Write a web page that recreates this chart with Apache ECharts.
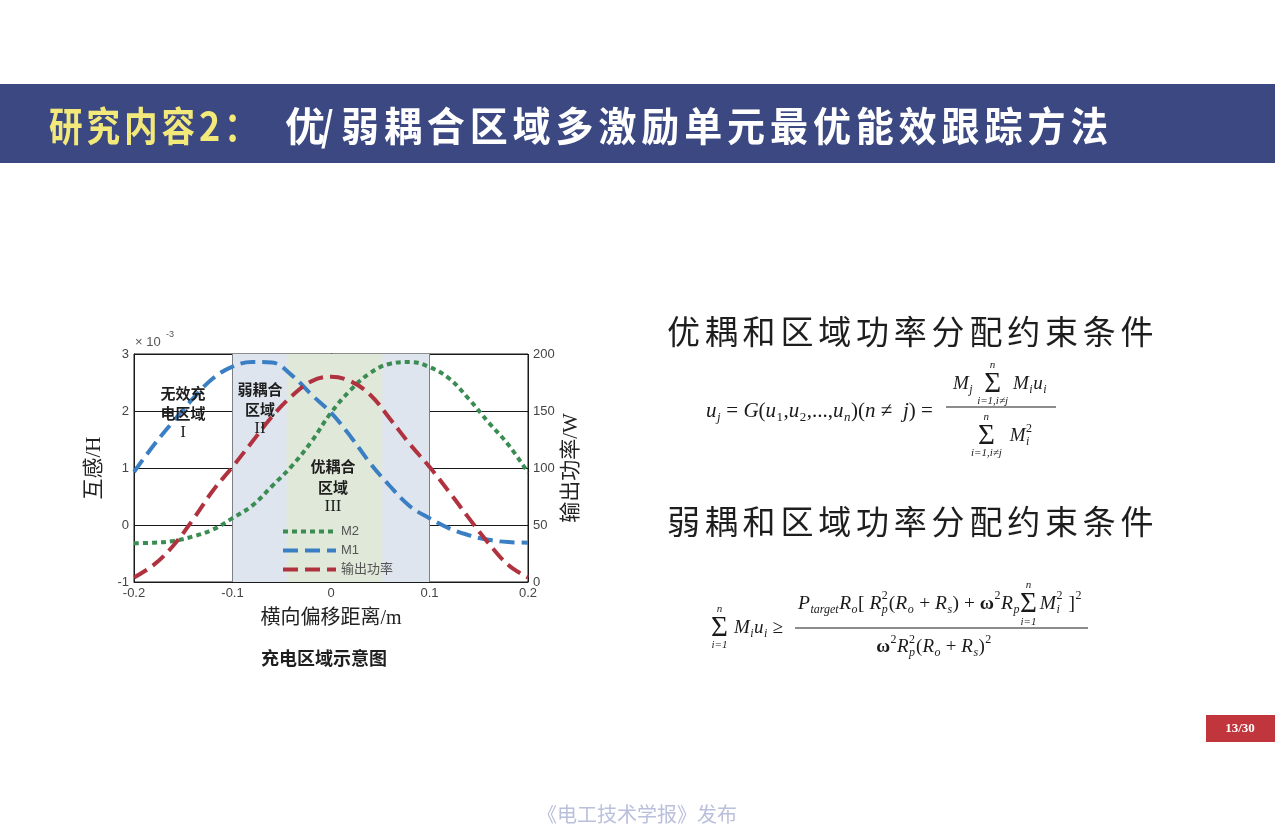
<!DOCTYPE html>
<html>
<head>
<meta charset="utf-8">
<title>研究内容2</title>
<script src="https://cdn.jsdelivr.net/npm/echarts@6/dist/echarts.min.js"></script>
<style>
  html, body { margin: 0; padding: 0; background: #ffffff; }
  #page { width: 1275px; height: 827px; }
</style>
</head>
<body>
<div id="page"></div>
<script>
// Lateral offset of the receiver (m)
const offsets = [-0.20, -0.18, -0.16, -0.14, -0.12, -0.10, -0.08, -0.06, -0.04, -0.02, 0.00,
                 0.02, 0.04, 0.06, 0.08, 0.10, 0.12, 0.14, 0.16, 0.18, 0.20];
// Mutual inductance, ×10^-3 H
const m1 = [0.93, 1.40, 1.82, 2.22, 2.57, 2.78, 2.86, 2.85, 2.63, 2.29, 1.97,
            1.55, 1.08, 0.68, 0.33, 0.12, -0.06, -0.18, -0.26, -0.30, -0.31];
const m2 = [-0.32, -0.31, -0.28, -0.20, -0.08, 0.12, 0.34, 0.68, 1.03, 1.46, 1.97,
            2.37, 2.67, 2.83, 2.86, 2.77, 2.57, 2.21, 1.80, 1.41, 0.92];
// Output power (W)
const power = [4, 15, 32, 55, 80, 101, 123, 145, 163, 176, 180,
               176, 164, 143, 121, 101, 79, 56, 34, 15, 4];

// Axis ranges
const xRange = [-0.2, 0.2, 0.1];
const mRange = [-1, 3, 1];
const pRange = [0, 200, 50];

// Charging zones along the offset axis
const weakZone = [-0.1, 0.1];
const strongZone = [-0.045, 0.052];

const seriesNames = ['M2', 'M1', '输出功率'];

const CJK = '"Noto Sans CJK SC", "Noto Sans", sans-serif';
const SANS = '"Liberation Sans", Arial, sans-serif';
const SERIF = '"Liberation Serif", "DejaVu Serif", serif';
const SERIF_CJK = '"Liberation Serif", "Noto Sans CJK SC", serif';

const mctx = document.createElement('canvas').getContext('2d');
function textWidth(s, size, family, italic, bold) {
  mctx.font = (italic ? 'italic ' : '') + (bold ? 'bold ' : '') + size + 'px ' + family;
  return mctx.measureText(s).width;
}

function txt(x, y, s, o) {
  o = o || {};
  const align = o.align || 'left';
  const valign = o.valign || 'middle';
  return {
    type: 'text', x: x, y: y, z: o.z || 100,
    scaleX: o.scaleX || 1, scaleY: o.scaleY || 1, rotation: o.rotation || 0,
    silent: true,
    style: {
      text: s,
      fontSize: o.size || 14,
      fontFamily: o.family || CJK,
      fontStyle: o.italic ? 'italic' : 'normal',
      fontWeight: o.bold ? 'bold' : 'normal',
      fill: o.color || '#222',
      align: align, textAlign: align,
      verticalAlign: valign, textVerticalAlign: valign
    }
  };
}

// Characters laid out on a fixed pitch
function spaced(str, x, y, pitch, o) {
  return Array.from(str).map((ch, i) => txt(x + i * pitch, y, ch, o));
}

// Small typesetting helper for the formulas
function mathRow(tokens, base) {
  const items = [];
  let x = 0;
  const small = Math.round(base * 0.62);
  const isVar = s => /[A-Za-z]/.test(s);
  const put = (s, dx, dy, size, italic, bold) => {
    items.push({ x: x + dx, dy: dy, s: s, size: size, italic: italic, bold: bold });
    return textWidth(s, size, SERIF, italic, bold);
  };
  tokens.forEach(t => {
    const k = t[0], a = t[1], b = t[2];
    if (k === 'gap') x += a;
    else if (k === 'i') x += put(a, 0, 0, base, true, false);
    else if (k === 'r') x += put(a, 0, 0, base, false, false);
    else if (k === 'b') x += put(a, 0, 0, base, false, true);
    else if (k === 'sub') x += put(a, 0.5, base * 0.32, small, isVar(a), false) + 1;
    else if (k === 'sup') x += put(a, 0.5, -base * 0.4, small, isVar(a), false) + 1;
    else if (k === 'ss') {
      const w1 = put(a, 0.5, base * 0.32, small, isVar(a), false);
      const w2 = put(b, 0.5, -base * 0.4, small, isVar(b), false);
      x += Math.max(w1, w2) + 1.5;
    } else if (k === 'sum') {
      const big = Math.round(base * 1.5), lim = Math.round(base * 0.56);
      const wS = textWidth('Σ', big, SERIF), wU = textWidth(a, lim, SERIF, true), wL = textWidth(b, lim, SERIF, true);
      const w = Math.max(wS, wU, wL);
      put('Σ', (w - wS) / 2, 0, big, false, false);
      put(a, (w - wU) / 2, -base * 0.98, lim, true, false);
      put(b, (w - wL) / 2, base * 0.92, lim, true, false);
      x += w + 3;
    }
  });
  return { items: items, width: x };
}
function mathEls(row, x0, cy, centered) {
  const start = centered ? x0 - row.width / 2 : x0;
  return row.items.map(it => txt(start + it.x, cy + it.dy, it.s,
    { size: it.size, family: SERIF, italic: it.italic, bold: it.bold, color: '#1a1a1a' }));
}
function rule(x1, x2, y) {
  return { type: 'line', z: 100, silent: true, shape: { x1: x1, y1: y, x2: x2, y2: y },
           style: { stroke: '#1a1a1a', lineWidth: 1 } };
}

const graphics = [];
// Title band
graphics.push({ type: 'rect', z: 50, silent: true, shape: { x: 0, y: 84, width: 1275, height: 79 },
                style: { fill: '#3b4881' } });
const titleY = 126;
graphics.push(...spaced('研究内容', 49, titleY, 37.5, { size: 40, bold: true, color: '#f3e97a', scaleX: 0.84 }));
graphics.push(txt(199, titleY, '2', { size: 40, bold: true, color: '#f3e97a', scaleX: 0.9 }));
graphics.push(txt(224, titleY, '：', { size: 40, bold: true, color: '#f3e97a', scaleX: 0.86 }));
graphics.push(txt(285, titleY, '优', { size: 40, bold: true, color: '#ffffff' }));
graphics.push(txt(321, titleY, '/', { size: 40, bold: true, color: '#ffffff', scaleX: 0.8 }));
graphics.push(...spaced('弱耦合区域多激励单元最优能效跟踪方法', 341, titleY, 42.9, { size: 40, bold: true, color: '#ffffff', scaleX: 0.95 }));

// Zone annotations inside the plot
const zoneFont = { size: 15, bold: true, align: 'center', color: '#1e1e1e' };
const numFont = { size: 17, family: SERIF, align: 'center', color: '#1e1e1e' };
graphics.push(txt(183, 393, '无效充', zoneFont), txt(183, 413, '电区域', zoneFont), txt(183, 433, 'I', numFont));
graphics.push(txt(260, 389, '弱耦合', zoneFont), txt(260, 409, '区域', zoneFont), txt(260, 429, 'II', numFont));
graphics.push(txt(333, 466, '优耦合', zoneFont), txt(333, 487, '区域', zoneFont), txt(333, 507, 'III', numFont));

// Axis exponent
graphics.push(txt(135, 342, '× 10', { size: 13, family: SANS, color: '#555' }));
graphics.push(txt(166, 335, '-3', { size: 9, family: SANS, color: '#555' }));

// Caption
graphics.push(txt(324, 658, '充电区域示意图', { size: 18, bold: true, align: 'center', color: '#1e1e1e' }));

// Right-hand headings
graphics.push(...spaced('优耦和区域功率分配约束条件', 667, 331, 37.8, { size: 33, color: '#1e1e1e' }));
graphics.push(...spaced('弱耦和区域功率分配约束条件', 667, 521, 37.8, { size: 33, color: '#1e1e1e' }));

// Formula 1
const f1Lhs = mathRow([['i', 'u'], ['sub', 'j'], ['r', ' = '], ['i', 'G'], ['r', '('], ['i', 'u'], ['sub', '1'], ['r', ','],
  ['i', 'u'], ['sub', '2'], ['r', ',...,'], ['i', 'u'], ['sub', 'n'], ['r', ')('], ['i', 'n'], ['r', ' ≠  '], ['i', 'j'],
  ['r', ') = ']], 21);
graphics.push(...mathEls(f1Lhs, 706, 411, false));
graphics.push(rule(946, 1056, 407));
const f1Num = mathRow([['i', 'M'], ['sub', 'j'], ['gap', 4], ['sum', 'n', 'i=1,i≠j'], ['gap', 2],
  ['i', 'M'], ['sub', 'i'], ['i', 'u'], ['sub', 'i']], 19);
graphics.push(...mathEls(f1Num, 1000, 384, true));
const f1Den = mathRow([['sum', 'n', 'i=1,i≠j'], ['gap', 5], ['i', 'M'], ['ss', 'i', '2']], 19);
graphics.push(...mathEls(f1Den, 1002, 436, true));

// Formula 2
const f2Lhs = mathRow([['sum', 'n', 'i=1'], ['gap', 3], ['i', 'M'], ['sub', 'i'], ['i', 'u'], ['sub', 'i'], ['r', ' ≥ ']], 19);
graphics.push(...mathEls(f2Lhs, 711, 628, false));
graphics.push(rule(795, 1088, 628));
const f2Num = mathRow([['i', 'P'], ['sub', 'target'], ['i', 'R'], ['sub', 'o'], ['r', '[ '], ['i', 'R'], ['ss', 'p', '2'],
  ['r', '('], ['i', 'R'], ['sub', 'o'], ['r', ' + '], ['i', 'R'], ['sub', 's'], ['r', ') + '], ['b', 'ω'], ['sup', '2'],
  ['i', 'R'], ['sub', 'p'], ['sum', 'n', 'i=1'], ['i', 'M'], ['ss', 'i', '2'], ['r', ' ]'], ['sup', '2']], 19.5);
graphics.push(...mathEls(f2Num, 940, 604, true));
const f2Den = mathRow([['b', 'ω'], ['sup', '2'], ['i', 'R'], ['ss', 'p', '2'], ['r', '('], ['i', 'R'], ['sub', 'o'],
  ['r', ' + '], ['i', 'R'], ['sub', 's'], ['r', ')'], ['sup', '2']], 19);
graphics.push(...mathEls(f2Den, 934, 647, true));

// Page number
graphics.push({ type: 'rect', z: 50, silent: true, shape: { x: 1206, y: 715, width: 69, height: 27 },
                style: { fill: '#c1353d' } });
graphics.push(txt(1240, 729, '13/30', { size: 13, family: SERIF, bold: true, align: 'center', color: '#ffffff' }));

// Footer
graphics.push(txt(637, 814, '《电工技术学报》发布', { size: 20, align: 'center', color: '#bac0dc' }));

const pts = vals => offsets.map((x, i) => [x, vals[i]]);
const axisLineStyle = { color: '#1a1a1a', width: 1 };

const chart = echarts.init(document.getElementById('page'), null, { renderer: 'canvas' });
chart.setOption({
  animation: false,
  backgroundColor: '#ffffff',
  grid: { left: 134, top: 354, width: 394, height: 228, show: true, borderColor: '#1a1a1a', borderWidth: 1,
          backgroundColor: 'transparent', containLabel: false },
  legend: {
    data: seriesNames, orient: 'vertical', left: 276, top: 520, itemWidth: 53, itemHeight: 14, itemGap: 6,
    itemStyle: { opacity: 0 },
    lineStyle: { width: 4 },
    textStyle: { color: '#555', fontSize: 13, fontFamily: SANS + ', ' + CJK }, selectedMode: false
  },
  xAxis: {
    type: 'value', min: xRange[0], max: xRange[1], interval: xRange[2],
    name: '横向偏移距离/m', nameLocation: 'middle', nameGap: 27,
    nameTextStyle: { fontSize: 20, color: '#222', fontFamily: SERIF_CJK },
    axisLine: { show: true, onZero: false, lineStyle: axisLineStyle },
    axisTick: { show: true, inside: true, length: 4, lineStyle: axisLineStyle },
    axisLabel: { color: '#444', fontSize: 13, margin: 5, fontFamily: SANS,
                 formatter: v => String(+Number(v).toFixed(1)) },
    splitLine: { show: true, lineStyle: { color: '#1a1a1a', width: 1 } }
  },
  yAxis: [
    {
      type: 'value', position: 'left', min: mRange[0], max: mRange[1], interval: mRange[2],
      name: '互感/H', nameLocation: 'middle', nameGap: 29, nameRotate: 90,
      nameTextStyle: { fontSize: 21, color: '#222', fontFamily: SERIF_CJK },
      axisLine: { show: true, onZero: false, lineStyle: axisLineStyle },
      axisTick: { show: true, inside: true, length: 4, lineStyle: axisLineStyle },
      axisLabel: { color: '#444', fontSize: 13, margin: 5, fontFamily: SANS },
      splitLine: { show: true, lineStyle: { color: '#1a1a1a', width: 1 } }
    },
    {
      type: 'value', position: 'right', min: pRange[0], max: pRange[1], interval: pRange[2],
      name: '输出功率/W', nameLocation: 'middle', nameGap: 33, nameRotate: 90,
      nameTextStyle: { fontSize: 21, color: '#222', fontFamily: SERIF_CJK },
      axisLine: { show: true, lineStyle: axisLineStyle },
      axisTick: { show: true, inside: true, length: 4, lineStyle: axisLineStyle },
      axisLabel: { color: '#444', fontSize: 13, margin: 5, fontFamily: SANS },
      splitLine: { show: false }
    }
  ],
  series: [
    {
      name: 'zones', type: 'line', data: [], z: -1, silent: true, symbol: 'none',
      markArea: {
        silent: true,
        data: [
          [{ xAxis: weakZone[0], itemStyle: { color: '#dfe5ee' } }, { xAxis: weakZone[1] }],
          [{ xAxis: strongZone[0], itemStyle: { color: '#dfe8d9' } }, { xAxis: strongZone[1] }]
        ]
      }
    },
    {
      name: 'M2', type: 'line', yAxisIndex: 0, data: pts(m2), smooth: 0.4, symbol: 'none',
      lineStyle: { color: '#3a8c52', width: 4, type: [5, 4], cap: 'butt' }, itemStyle: { color: '#3a8c52' }
    },
    {
      name: 'M1', type: 'line', yAxisIndex: 0, data: pts(m1), smooth: 0.4, symbol: 'none',
      lineStyle: { color: '#3a7ec4', width: 4, type: [15, 7], cap: 'butt' }, itemStyle: { color: '#3a7ec4' }
    },
    {
      name: '输出功率', type: 'line', yAxisIndex: 1, data: pts(power), smooth: 0.4, symbol: 'none',
      lineStyle: { color: '#b0323f', width: 4, type: [15, 7], cap: 'butt' }, itemStyle: { color: '#b0323f' }
    }
  ],
  graphic: { elements: graphics }
});
</script>
</body>
</html>
